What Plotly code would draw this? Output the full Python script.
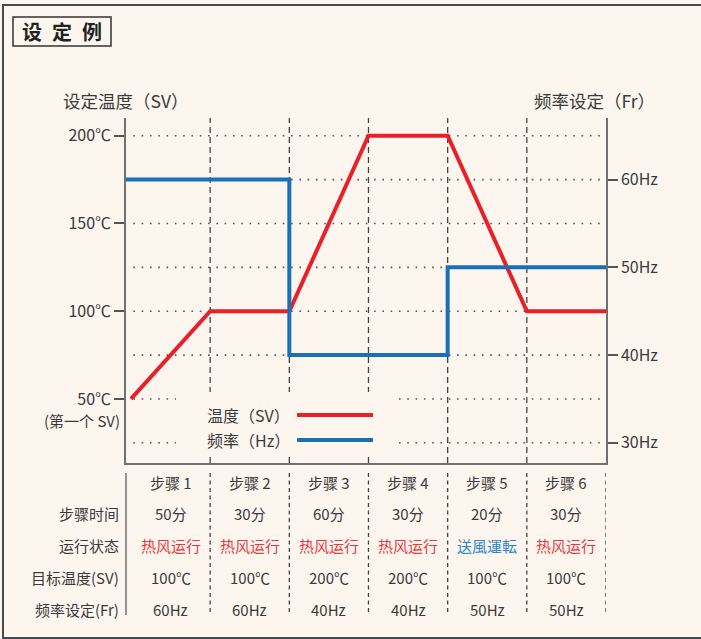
import plotly.graph_objects as go

# ---------------- data ----------------
steps = ["步骤 1", "步骤 2", "步骤 3", "步骤 4", "步骤 5", "步骤 6"]
step_times = ["50分", "30分", "60分", "30分", "20分", "30分"]
run_states = ["热风运行", "热风运行", "热风运行", "热风运行", "送風運転", "热风运行"]
target_temps = [100, 100, 200, 200, 100, 100]
freq_settings = [60, 60, 40, 40, 50, 50]
first_sv = 50
row_labels = ["步骤时间", "运行状态", "目标温度(SV)", "频率设定(Fr)"]
temp_ticks = [50, 100, 150, 200]
freq_ticks = [30, 40, 50, 60]
grid_temps = [25, 50, 75, 100, 125, 150, 175, 200]

# ---------------- style ----------------
FONT = "Noto Sans CJK SC"
BG = "#fdf6ef"
TXT = "#3a3a3a"
RED = "#e8202a"
BLUE = "#1a70b8"
RED_TXT = "#e8383d"
BLUE_TXT = "#2a86c8"
AX = "#707070"

W, H = 701, 639
L, R, T, B = 126, 606, 118, 463
X_MIN, X_MAX = -0.063, 6
Y_MIN, Y_MAX = 13.5, 210.1
# frequency axis aligned: 60Hz <-> 175C, 30Hz <-> 25C
def t2f(t):
    return (t - 25) / 5 + 30
F_MIN, F_MAX = t2f(Y_MIN), t2f(Y_MAX)

def px(x):
    return (x - L) / (R - L)

def py(y):
    return (B - y) / (B - T)

def dx(x):
    return X_MIN + px(x) * (X_MAX - X_MIN)

def dy(y):
    return Y_MIN + py(y) * (Y_MAX - Y_MIN)

n = len(steps)
xs = list(range(n + 1))
temps = [first_sv] + target_temps

fig = go.Figure()

# red temperature line
fig.add_trace(go.Scatter(x=xs, y=temps, mode="lines",
                         line=dict(color=RED, width=4), hoverinfo="skip",
                         showlegend=False))
# blue frequency step line
fx = [X_MIN] + xs[1:]
fy = freq_settings + [freq_settings[-1]]
fig.add_trace(go.Scatter(x=fx, y=fy, mode="lines", line_shape="hv",
                         line=dict(color=BLUE, width=4), hoverinfo="skip",
                         showlegend=False, yaxis="y2"))

shapes = []
# dotted gridlines
for gt in grid_temps:
    shapes.append(dict(type="line", xref="x", yref="y", x0=0.03, x1=X_MAX,
                       y0=gt, y1=gt, layer="below",
                       line=dict(color="#555555", width=1.6, dash="1.6px,6.7px")))
# dashed step boundaries in plot
for i in range(1, n):
    shapes.append(dict(type="line", xref="x", yref="y", x0=i, x1=i,
                       y0=Y_MIN, y1=Y_MAX, layer="below",
                       line=dict(color="#444444", width=1.3, dash="6px,4px")))
# legend cover box (same layer as gridlines, drawn after them)
shapes.append(dict(type="rect", xref="x", yref="y",
                   x0=dx(176), x1=dx(397), y0=dy(457), y1=dy(392),
                   fillcolor=BG, line=dict(width=0), layer="below"))
# table lines
shapes.append(dict(type="line", xref="paper", yref="paper", x0=0, x1=0,
                   y0=py(473), y1=py(615), line=dict(color=AX, width=1.5)))
for i in range(1, n + 1):
    shapes.append(dict(type="line", xref="x", yref="paper", x0=i, x1=i,
                       y0=py(473), y1=py(615),
                       line=dict(color="#444444", width=1.3, dash="4px,3.5px")))
# legend lines
shapes.append(dict(type="line", xref="paper", yref="paper", x0=px(297), x1=px(373),
                   y0=py(415), y1=py(415), line=dict(color=RED, width=4)))
shapes.append(dict(type="line", xref="paper", yref="paper", x0=px(297), x1=px(373),
                   y0=py(440), y1=py(440), line=dict(color=BLUE, width=4)))
# title box
shapes.append(dict(type="rect", xref="paper", yref="paper",
                   x0=px(13), x1=px(111), y0=py(46), y1=py(17),
                   line=dict(color="#333333", width=1.5), fillcolor="rgba(0,0,0,0)"))
# outer frame
shapes.append(dict(type="rect", xref="paper", yref="paper",
                   x0=px(3), x1=px(730), y0=py(638), y1=py(5),
                   line=dict(color="#4a4a4a", width=2), fillcolor="rgba(0,0,0,0)"))

ann = []
def text(x, y, s, size=15, color=TXT, xanchor="center", xref="paper"):
    ann.append(dict(x=x, y=y, xref=xref, yref="paper", text=s, showarrow=False,
                    xanchor=xanchor, yanchor="middle",
                    font=dict(family=FONT, size=size, color=color)))

text(px(62), py(31.5), "<b>设\u2002定\u2002例</b>", size=20, color="#222222")
text(px(61), py(100), "设定温度（SV）", size=17.5, xanchor="left")
text(px(657), py(100), "频率设定（Fr）", size=17.5, xanchor="right")
text(px(122), py(420), "(第一个 SV)", size=15, xanchor="right")
text(px(292), py(415), "温度（SV）", size=16, xanchor="right")
text(px(292), py(440), "频率（Hz）", size=16, xanchor="right")

row_y = [482, 513, 545, 577, 609]
for i in range(n):
    cx = i + 0.5
    text(cx, py(row_y[0]), steps[i], xref="x")
    text(cx, py(row_y[1]), step_times[i], xref="x")
    col = RED_TXT if run_states[i].startswith("热") else BLUE_TXT
    text(cx, py(row_y[2]), run_states[i], color=col, xref="x")
    text(cx, py(row_y[3]), f"{target_temps[i]}℃", xref="x")
    text(cx, py(row_y[4]), f"{freq_settings[i]}Hz", xref="x")
for j, lab in enumerate(row_labels):
    text(px(121), py(row_y[j + 1]), lab, xanchor="right")

fig.update_layout(
    width=W, height=H,
    margin=dict(l=L, r=W - R, t=T, b=H - B, pad=0),
    paper_bgcolor=BG, plot_bgcolor=BG,
    font=dict(family=FONT, color=TXT, size=16),
    showlegend=False,
    shapes=shapes, annotations=ann,
    xaxis=dict(range=[X_MIN, X_MAX], showgrid=False, zeroline=False,
               showticklabels=False, showline=True, linecolor=AX, linewidth=1.5,
               ticks="", fixedrange=True),
    yaxis=dict(range=[Y_MIN, Y_MAX], showgrid=False, zeroline=False,
               showline=True, linecolor=AX, linewidth=1.5,
               tickvals=temp_ticks, ticktext=[f"{v}℃" for v in temp_ticks],
               ticks="outside", ticklen=10, tickwidth=1.5, tickcolor="#555555",
               tickfont=dict(family=FONT, size=16, color=TXT)),
    yaxis2=dict(range=[F_MIN, F_MAX], overlaying="y", side="right",
                showgrid=False, zeroline=False,
                showline=True, linecolor=AX, linewidth=1.5,
                tickvals=freq_ticks, ticktext=[f"{v}Hz" for v in freq_ticks],
                ticks="outside", ticklen=10, tickwidth=1.5, tickcolor="#555555",
                tickfont=dict(family=FONT, size=16, color=TXT)),
)

fig.write_html("out.html",
               config={"displayModeBar": False},
               post_script="document.body.style.margin='0';document.body.style.background='%s';" % BG)
